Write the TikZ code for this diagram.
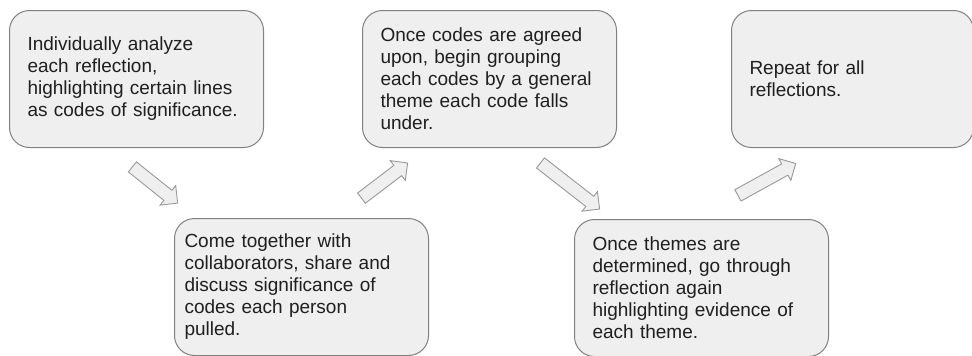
\documentclass[tikz,border=0pt]{standalone}
\usepackage{fontspec}
\setmainfont{Liberation Sans}
\usetikzlibrary{positioning,shapes.arrows}
\definecolor{boxfill}{HTML}{EFEFEF}
\definecolor{boxline}{HTML}{808080}
\definecolor{arrline}{HTML}{999999}
\hyphenpenalty=10000
\exhyphenpenalty=10000

\begin{document}
\begin{tikzpicture}[x=1pt,y=-1pt,node distance=70pt,
  stepbox/.style={draw=boxline,fill=boxfill,rounded corners=20pt,line width=1pt,minimum width=254pt,minimum height=137pt,text width=218pt,align=left,inner sep=0pt,font=\fontsize{19}{22}\selectfont,text=black!88},
  blkarrow/.style={single arrow,draw=arrline,fill=boxfill,line width=0.9pt,inner xsep=0pt,inner ysep=6pt,single arrow head extend=6pt,sloped}]
\useasboundingbox (0,0) rectangle (972,356);
\node [stepbox,anchor=north west] at (9,10) (b1) {Individually analyze\\each reflection,\\highlighting certain lines\\as codes of significance.};
\node [stepbox,right=98pt of b1] (b3) {Once codes are agreed\\upon, begin grouping\\each codes by a general\\theme each code falls\\under.};
\node [stepbox,right=114pt of b3,minimum width=242pt,text width=206pt] (b5) {Repeat for all\\reflections.};
\node [stepbox,below right=70pt and -90pt of b1,text width=234pt] (b2) {Come together with\\collaborators, share and\\discuss significance of\\codes each person\\pulled.};
\node [stepbox,below right=71pt and -43pt of b3] (b4) {Once themes are\\determined, go through\\reflection again\\highlighting evidence of\\each theme.};

\coordinate (t1) at (130,165);
\coordinate (h1) at (175,201);
\coordinate (t2) at (359,200);
\coordinate (h2) at (405,165);
\coordinate (t3) at (538,161);
\coordinate (h3) at (597,207);
\coordinate (t4) at (735,197);
\coordinate (h4) at (793,165);

\path (t1) -- node [blkarrow,minimum height=58pt] (a1) {} (h1);
\path (t2) -- node [blkarrow,minimum height=58pt] (a2) {} (h2);
\path (t3) -- node [blkarrow,minimum height=75pt] (a3) {} (h3);
\path (t4) -- node [blkarrow,minimum height=66pt] (a4) {} (h4);
\end{tikzpicture}
\end{document}
